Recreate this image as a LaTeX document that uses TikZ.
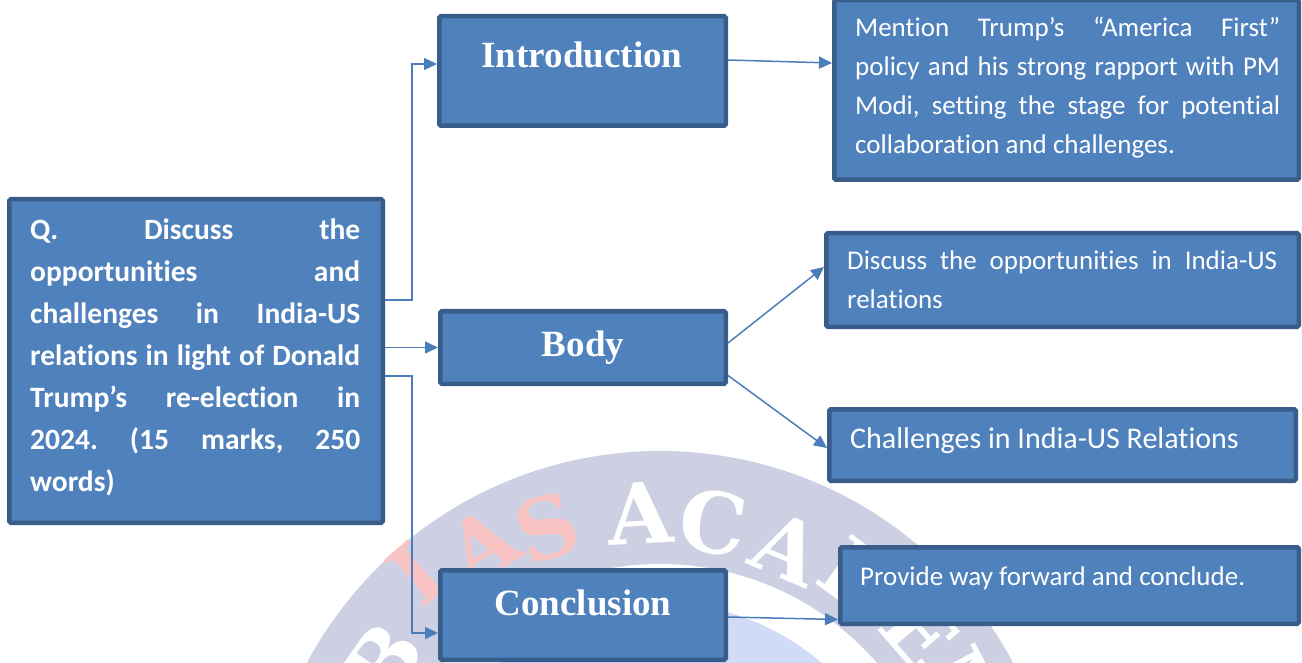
\documentclass[tikz,border=0pt]{standalone}
\usepackage{fontspec}
\setmainfont{Carlito}[Ligatures={NoCommon}]
\newfontfamily\headfont{Liberation Serif}
\newfontfamily\wmfont{DejaVu Serif}
\usetikzlibrary{arrows.meta,calc}
\definecolor{boxfill}{HTML}{4F81BD}
\definecolor{boxline}{HTML}{385D8A}
\definecolor{connline}{HTML}{4A7EBB}
\definecolor{wmgray}{HTML}{CDD0E3}
\definecolor{wmpink}{HTML}{F9C3C3}
\definecolor{wmblue}{HTML}{D0DBF7}
\newcommand\jline[1]{\makebox[\linewidth][s]{#1}}
\frenchspacing
\begin{document}
\begin{tikzpicture}[x=1pt,y=-1pt,
  box/.style={draw=boxline, fill=boxfill, line width=4.5pt, rounded corners=1.5pt, inner sep=0pt},
  conn/.style={draw=connline, line width=1.5pt, -{Triangle[length=13pt,width=12pt]}},
  head/.style={text=white, font=\headfont\bfseries\fontsize{37pt}{40pt}\selectfont, anchor=base, inner sep=0pt},
  txt/.style={text=white, anchor=base west, inner sep=0pt},
  wm/.style={font=\wmfont\bfseries\fontsize{84pt}{84pt}\selectfont, inner sep=0pt, text=white}
]
\useasboundingbox (0,0) rectangle (1302,663);
\fill[white] (0,0) rectangle (1302,663);

% watermark
\begin{scope}
\clip (0,0) rectangle (1302,663);
\fill[wmgray] (660,851) circle[radius=400pt];
\fill[white] (660,851) circle[radius=287pt];
\fill[wmblue] (660,851) circle[radius=248pt];
\node[wm, rotate=55] (wB) at (383,662) {B};
\node[wm, text=wmpink, rotate=41] (wI) at (416,574) {I};
\node[wm, text=wmpink, rotate=30] (wA1) at (482,545) {A};
\node[wm, text=wmpink, rotate=19] (wS) at (547,528) {S};
\node[wm, rotate=3] (wA2) at (640,513) {A};
\node[wm, rotate=-9] (wC) at (713,523) {C};
\node[wm, rotate=-23] (wA3) at (787,548) {A};
\node[wm, rotate=-36] (wD) at (860,578) {D};
\node[wm, rotate=-49] (wE) at (920,632) {E};
\node[wm, rotate=-62] (wM) at (968,695) {M};
\end{scope}

% boxes
\node[box, minimum width=373.5pt, minimum height=323.5pt] (q) at (196,361) {};
\node[box, minimum width=286.5pt, minimum height=109.5pt] (intro) at (582.5,71) {};
\node[box, minimum width=285.5pt, minimum height=72.5pt] (bodybox) at (583,347.5) {};
\node[box, minimum width=285.5pt, minimum height=89.5pt] (concl) at (583,615) {};
\node[box, minimum width=464.5pt, minimum height=179.5pt] (mention) at (1066.5,90) {};
\node[box, minimum width=472.5pt, minimum height=93.5pt] (discuss) at (1062.5,280) {};
\node[box, minimum width=466.5pt, minimum height=71.5pt] (chall) at (1062.5,445) {};
\node[box, minimum width=458.5pt, minimum height=76.5pt] (provide) at (1069.5,585.5) {};

% connectors
\draw[conn] ([yshift=61pt]q.east) -- ++(27,0) |- ([yshift=7pt]intro.west);
\draw[conn] (q.east |- bodybox.west) -- (bodybox.west);
\draw[conn] ([yshift=-15pt]q.east) -- ++(27,0) |- ([yshift=-18pt]concl.west);
\draw[conn] ([yshift=11pt]intro.east) -- ([yshift=27pt]mention.west);
\draw[conn] ([yshift=4.5pt]bodybox.east) -- ([yshift=13pt]discuss.west);
\draw[conn] ([yshift=-28pt]bodybox.east) -- ([yshift=-3pt]chall.west);
\draw[conn] ([yshift=-2pt]concl.east) -- ([yshift=-34pt]provide.west);

% texts
\node[head] (tintro) at (582,68) {Introduction};
\node[head] (tbody) at (583,356) {Body};
\node[head] (tconcl) at (583,615) {Conclusion};

\node[txt, font=\bfseries\fontsize{29.5pt}{42pt}\selectfont] (tq) at (30,240)
 {\parbox[t]{330pt}{\jline{Q. Discuss the}\\
 \jline{opportunities and}\\
 \jline{challenges in India-US}\\
 \jline{relations in light of Donald}\\
 \jline{Trump’s re-election in}\\
 \jline{2024. (15 marks, 250}\\
 words)}};

\node[txt, font=\fontsize{27pt}{38.7pt}\selectfont] (tmention) at (855,37)
 {\parbox[t]{425pt}{\jline{Mention Trump’s “America First”}\\
 \jline{policy and his strong rapport with PM}\\
 \jline{Modi, setting the stage for potential}\\
 collaboration and challenges.}};

\node[txt, font=\fontsize{27pt}{39pt}\selectfont] (tdiscuss) at (847,270)
 {\parbox[t]{430pt}{\jline{Discuss the opportunities in India-US}\\
 relations}};

\node[txt, font=\fontsize{30pt}{36pt}\selectfont] (tchall) at (850,448) {Challenges in India-US Relations};
\node[txt, font=\fontsize{27pt}{32pt}\selectfont] (tprov) at (860,585) {Provide way forward and conclude.};
\end{tikzpicture}
\end{document}
